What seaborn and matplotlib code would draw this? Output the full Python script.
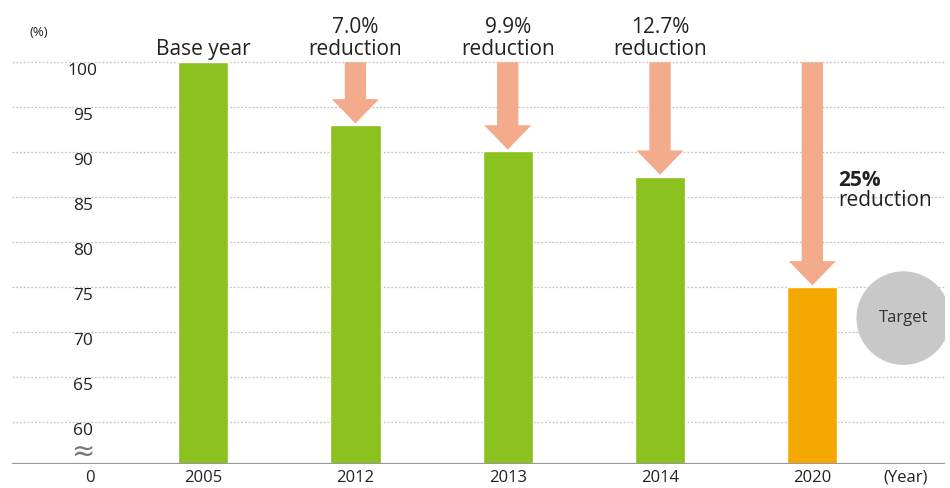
import numpy as np
import pandas as pd
import matplotlib
matplotlib.use("Agg")
import matplotlib.pyplot as plt
from matplotlib.patches import FancyArrow, Ellipse
import seaborn as sns

# Emission index per year (base year 2005 = 100)
years = ["2005", "2012", "2013", "2014", "2020"]
values = [100, 93.0, 90.1, 87.3, 75.0]
bar_colors = ["#8cc21f", "#8cc21f", "#8cc21f", "#8cc21f", "#f5a900"]
top_labels = ["Base year", "7.0%\nreduction", "9.9%\nreduction", "12.7%\nreduction", ""]
y_ticks = [60, 65, 70, 75, 80, 85, 90, 95, 100]

sns.set_theme(style="white")
plt.rcParams["font.family"] = ["Open Sans", "Noto Sans", "DejaVu Sans"]

df = pd.DataFrame({"year": years, "value": values})

fig = plt.figure(figsize=(9.5, 4.88), dpi=100)
ax = fig.add_axes([0.0126, 0.049, 0.982, 0.91])

sns.barplot(data=df, x="year", y="value", hue="year", palette=bar_colors,
            order=years, width=0.33, legend=False, ax=ax, saturation=1)

y_zero = 55.33
ax.set_xlim(-1.255, 4.87)
ax.set_ylim(y_zero, 104.7)

# dotted gridlines
for t in y_ticks:
    ax.axhline(t, color="#c4c4c4", lw=0.9, ls=(0, (1.5, 1.5)), zorder=0)
    ax.text(-0.79, t - 1.0, str(t), ha="center", va="center", fontsize=12.5, color="#222222")

ax.axhline(y_zero, color="#9a9a9a", lw=1.6, zorder=3)
ax.text(-0.79, 56.7, "≈", ha="center", va="center", fontsize=20,
        family="DejaVu Sans", color="#777777")
ax.text(-1.08, 103.3, "(%)", ha="center", va="center", fontsize=9.5, color="#222222")

for s in ax.spines.values():
    s.set_visible(False)
ax.set_yticks([])
ax.set_xticks([-0.742, 0, 1, 2, 3, 4, 4.61])
ax.set_xticklabels(["0"] + years + ["(Year)"], fontsize=12, color="#222222")
ax.tick_params(axis="x", length=0, pad=4)
ax.set_xlabel("")
ax.set_ylabel("")

# reduction arrows from base line
arrow_color = "#f4ab8b"
for i in range(1, len(years)):
    tip = values[i] + 0.2
    ax.add_patch(FancyArrow(i, 100, 0, tip - 100, width=0.14, head_width=0.31,
                            head_length=2.7, length_includes_head=True,
                            color=arrow_color, lw=0, zorder=4))

for i, lab in enumerate(top_labels):
    if lab:
        ax.text(i, 100.3, lab, ha="center", va="bottom", fontsize=15,
                color="#222222", linespacing=1.05)

ax.text(4.17, 85.7, "25%", ha="left", va="bottom", fontsize=15,
        fontweight="bold", color="#222222")
ax.text(4.17, 85.8, "reduction", ha="left", va="top", fontsize=15, color="#222222")

ax.add_patch(Ellipse((4.598, 71.56), 0.617, 10.4, color="#c8c8c8", lw=0, zorder=2))
ax.text(4.598, 71.56, "Target", ha="center", va="center", fontsize=12, color="#333333")

fig.savefig("out.png", dpi=100)
